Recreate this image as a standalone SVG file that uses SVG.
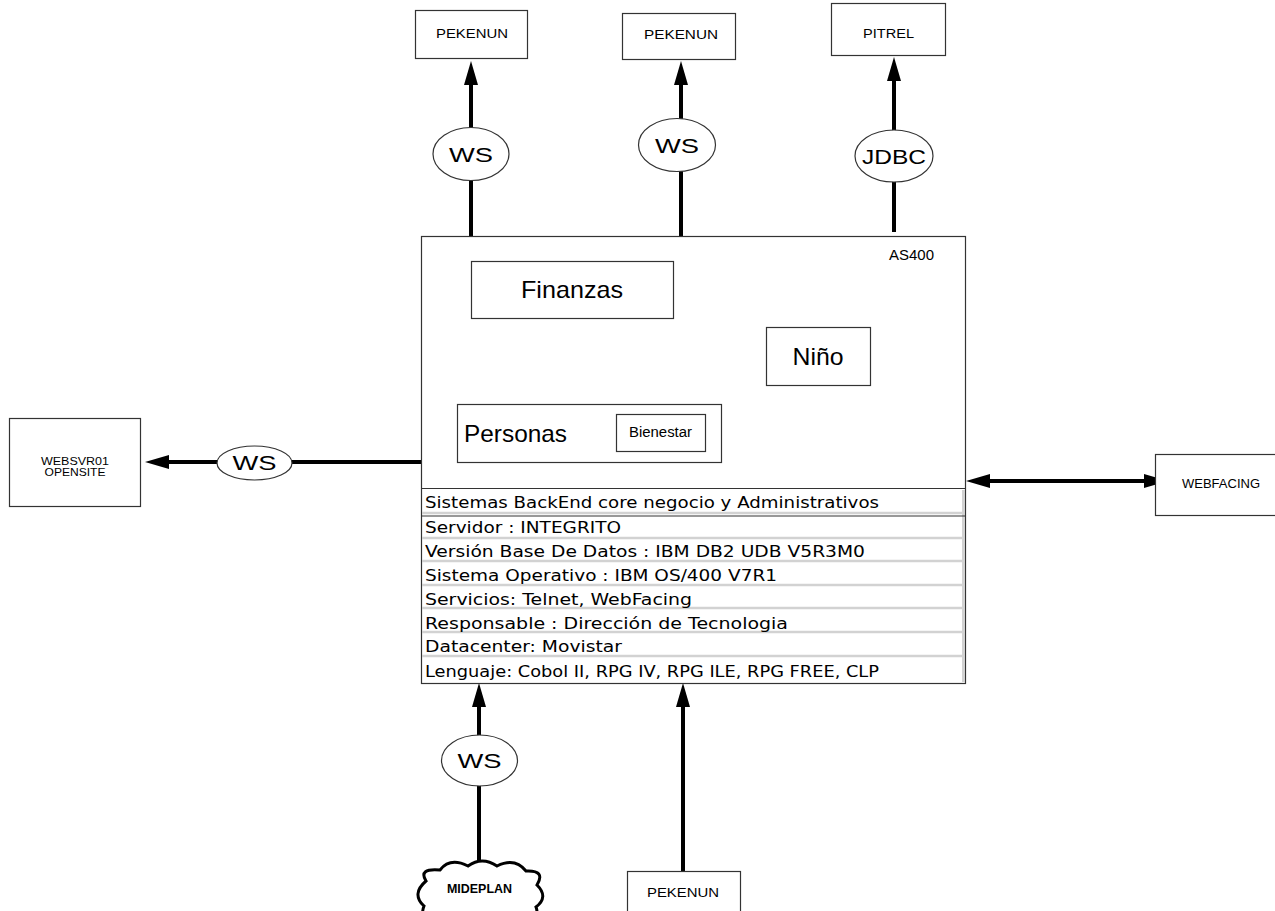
<svg xmlns="http://www.w3.org/2000/svg" width="1275" height="911" viewBox="0 0 1275 911">
<style>
.box{fill:#fff;stroke:#333;stroke-width:1.2}
.ell{fill:#fff;stroke:#333;stroke-width:1.2}
.lbl{font-family:"Liberation Sans",Arial,sans-serif;fill:#000;text-anchor:middle}
.conn{stroke:#000;stroke-width:4;fill:none}
.row{font-family:"DejaVu Sans","Open Sans",sans-serif;font-size:15px;fill:#000}
.sep{stroke:#d2d2d2;stroke-width:2.5}
</style>
<defs>
<marker id="ah" markerUnits="userSpaceOnUse" markerWidth="26" markerHeight="16" refX="0" refY="7" orient="auto-start-reverse">
<path d="M0,0 L24,7 L0,14 z" fill="#000"/>
</marker>
</defs>
<rect width="1275" height="911" fill="#fff"/>

<g id="connectors">
<line class="conn" x1="471" y1="236" x2="471" y2="85" marker-end="url(#ah)"/>
<line class="conn" x1="681" y1="236" x2="681" y2="85" marker-end="url(#ah)"/>
<line class="conn" x1="894" y1="232" x2="894" y2="81" marker-end="url(#ah)"/>
<line class="conn" x1="421" y1="462" x2="169" y2="462" marker-end="url(#ah)"/>
<line class="conn" x1="990" y1="481" x2="1144" y2="481" marker-start="url(#ah)" marker-end="url(#ah)"/>
<line class="conn" x1="479" y1="864" x2="479" y2="707" marker-end="url(#ah)"/>
<line class="conn" x1="683" y1="871" x2="683" y2="707" marker-end="url(#ah)"/>
</g>

<g id="pekenun1"><rect class="box" x="415.5" y="10.5" width="112" height="48"/><text class="lbl" x="472" y="38" font-size="12.5" textLength="72" lengthAdjust="spacingAndGlyphs">PEKENUN</text></g>
<g id="pekenun2"><rect class="box" x="622.5" y="13.5" width="113" height="46"/><text class="lbl" x="681" y="39" font-size="12.5" textLength="74" lengthAdjust="spacingAndGlyphs">PEKENUN</text></g>
<g id="pitrel"><rect class="box" x="831.5" y="3.5" width="114" height="52"/><text class="lbl" x="888.5" y="38" font-size="12.5" textLength="51" lengthAdjust="spacingAndGlyphs">PITREL</text></g>

<g id="ws1"><ellipse class="ell" cx="471" cy="154" rx="38" ry="26.5"/><text class="lbl" x="471" y="162" font-size="21" textLength="44" lengthAdjust="spacingAndGlyphs">WS</text></g>
<g id="ws2"><ellipse class="ell" cx="677" cy="145" rx="38.5" ry="26.5"/><text class="lbl" x="677" y="153" font-size="21" textLength="44" lengthAdjust="spacingAndGlyphs">WS</text></g>
<g id="jdbc"><ellipse class="ell" cx="894" cy="156" rx="39" ry="26"/><text class="lbl" x="894" y="164" font-size="21" textLength="64" lengthAdjust="spacingAndGlyphs">JDBC</text></g>

<g id="as400">
<rect class="box" x="421.5" y="236.5" width="544" height="447"/>
<text class="lbl" x="911.5" y="260" font-size="14" textLength="45" lengthAdjust="spacingAndGlyphs">AS400</text>
</g>
<g id="finanzas"><rect class="box" x="471.5" y="261.5" width="202" height="57"/><text class="lbl" x="572" y="298" font-size="24" textLength="102" lengthAdjust="spacingAndGlyphs">Finanzas</text></g>
<g id="nino"><rect class="box" x="766.5" y="327.5" width="104" height="58"/><text class="lbl" x="818" y="365" font-size="24" textLength="51" lengthAdjust="spacingAndGlyphs">Niño</text></g>
<g id="personas"><rect class="box" x="457.5" y="404.5" width="264" height="58"/><text class="lbl" x="515.5" y="442" font-size="24" textLength="103" lengthAdjust="spacingAndGlyphs">Personas</text></g>
<g id="bienestar"><rect class="box" x="616.5" y="414.5" width="89" height="37"/><text class="lbl" x="660.5" y="437" font-size="14" textLength="63" lengthAdjust="spacingAndGlyphs">Bienestar</text></g>

<g id="tabla">
<rect x="962" y="490" width="3" height="192" fill="#d2d2d2"/>
<line x1="421" y1="488.5" x2="965" y2="488.5" stroke="#333" stroke-width="1.2"/>
<line class="sep" x1="422" y1="513" x2="962" y2="513"/>
<line x1="421" y1="516" x2="965" y2="516" stroke="#333" stroke-width="1.2"/>
<line class="sep" x1="422" y1="538" x2="962" y2="538"/>
<line class="sep" x1="422" y1="561" x2="962" y2="561"/>
<line class="sep" x1="422" y1="585" x2="962" y2="585"/>
<line class="sep" x1="422" y1="608" x2="962" y2="608"/>
<line class="sep" x1="422" y1="632" x2="962" y2="632"/>
<line class="sep" x1="422" y1="656" x2="962" y2="656"/>
<text class="row" x="425" y="508" textLength="454" lengthAdjust="spacingAndGlyphs">Sistemas BackEnd core negocio y Administrativos</text>
<text class="row" x="425" y="533" textLength="196" lengthAdjust="spacingAndGlyphs">Servidor : INTEGRITO</text>
<text class="row" x="425" y="557" textLength="440" lengthAdjust="spacingAndGlyphs">Versión Base De Datos : IBM DB2 UDB V5R3M0</text>
<text class="row" x="425" y="581" textLength="352" lengthAdjust="spacingAndGlyphs">Sistema Operativo : IBM OS/400 V7R1</text>
<text class="row" x="425" y="605" textLength="267" lengthAdjust="spacingAndGlyphs">Servicios: Telnet, WebFacing</text>
<text class="row" x="425" y="629" textLength="363" lengthAdjust="spacingAndGlyphs">Responsable : Dirección de Tecnologia</text>
<text class="row" x="425" y="652" textLength="197" lengthAdjust="spacingAndGlyphs">Datacenter: Movistar</text>
<text class="row" x="425" y="677" textLength="454" lengthAdjust="spacingAndGlyphs">Lenguaje: Cobol II, RPG IV, RPG ILE, RPG FREE, CLP</text>
</g>

<g id="websvr01"><rect class="box" x="9.5" y="418.5" width="131" height="88"/>
<text class="lbl" x="75" y="465" font-size="11" textLength="68" lengthAdjust="spacingAndGlyphs">WEBSVR01</text>
<text class="lbl" x="75" y="476" font-size="11" textLength="61" lengthAdjust="spacingAndGlyphs">OPENSITE</text></g>
<g id="ws3"><ellipse class="ell" cx="254.5" cy="463" rx="37.5" ry="17"/><text class="lbl" x="254.5" y="470" font-size="20" textLength="44" lengthAdjust="spacingAndGlyphs">WS</text></g>

<g id="webfacing"><rect class="box" x="1155.5" y="454.5" width="125" height="61"/><text class="lbl" x="1221" y="488" font-size="13" textLength="78" lengthAdjust="spacingAndGlyphs">WEBFACING</text></g>

<g id="ws4"><ellipse class="ell" cx="479.5" cy="760.5" rx="38" ry="25.5"/><text class="lbl" x="479.5" y="768" font-size="21" textLength="44" lengthAdjust="spacingAndGlyphs">WS</text></g>

<g id="mideplan">
<path d="M426,881 Q418,868 440,870 Q450,857 468,866 Q482,856 497,866 Q515,857 526,871 Q546,870 537,885 Q549,897 536,907 Q541,921 520,916 Q500,927 480,917 Q460,927 440,916 Q418,921 424,906 Q411,894 426,881 Z" fill="#fff" stroke="#000" stroke-width="3"/>
<text class="lbl" x="479.5" y="893" font-size="12" font-weight="bold" textLength="65" lengthAdjust="spacingAndGlyphs">MIDEPLAN</text>
</g>

<g id="pekenun3"><rect class="box" x="627.5" y="871.5" width="113" height="50"/><text class="lbl" x="683" y="897" font-size="12.5" textLength="72" lengthAdjust="spacingAndGlyphs">PEKENUN</text></g>
</svg>
